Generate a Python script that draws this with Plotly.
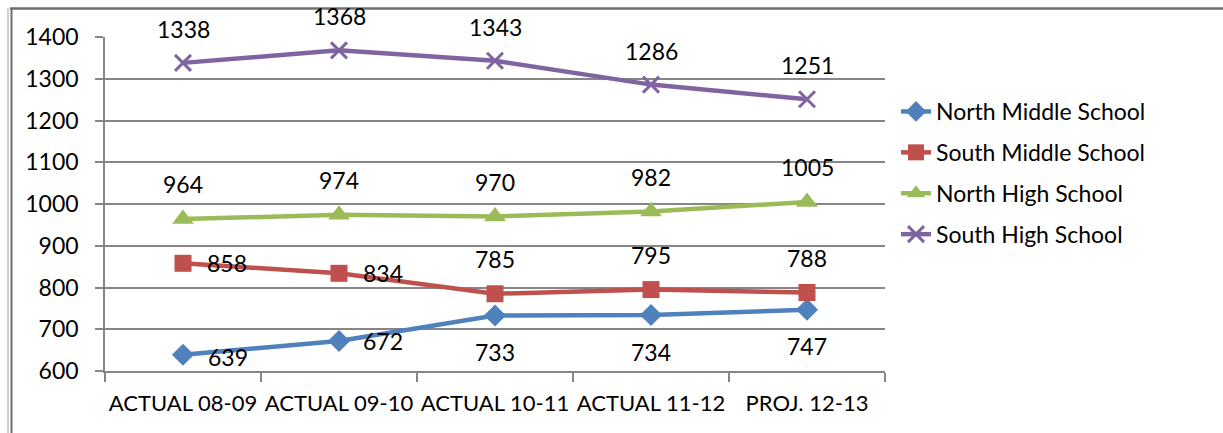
import plotly.graph_objects as go

# School enrollment by year
years = ["ACTUAL 08-09", "ACTUAL 09-10", "ACTUAL 10-11", "ACTUAL 11-12", "PROJ. 12-13"]
north_middle = [639, 672, 733, 734, 747]
south_middle = [858, 834, 785, 795, 788]
north_high = [964, 974, 970, 982, 1005]
south_high = [1338, 1368, 1343, 1286, 1251]

FONT = "Lato"
TXT = 23

W, H = 1223, 433
L, R, T, B = 105, 338, 37, 62
pw, ph = W - L - R, H - T - B


def px_x(x):
    return (x - L) / pw


def px_y(y):
    return (H - B - y) / ph


series = [
    ("North Middle School", north_middle, "#4F81BD",
     dict(symbol="diamond", size=17)),
    ("South Middle School", south_middle, "#C0504D",
     dict(symbol="square", size=17)),
    ("North High School", north_high, "#9BBB59",
     dict(symbol="triangle-up", size=19)),
    ("South High School", south_high, "#8064A2",
     dict(symbol="x-thin", size=16, line=dict(width=3, color="#8064A2"))),
]

# label placement per series: (xshift, yshift) for each point
offsets = {
    "North Middle School": [(45, -2), (44, 0), (0, -37), (0, -37), (0, -36)],
    "South Middle School": [(44, 0), (44, 0), (0, 35), (0, 35), (0, 35)],
    "North High School": [(0, 35)] * 5,
    "South High School": [(0, 34)] * 5,
}

fig = go.Figure()
annotations = []
for i, (name, vals, color, marker) in enumerate(series):
    fig.add_trace(go.Scatter(
        x=years, y=vals, name=name, mode="lines+markers",
        line=dict(color=color, width=4.5),
        marker=dict(color=color, **marker),
        legendgroup=f"g{i}",
    ))
    for x, v, (dx, dy) in zip(years, vals, offsets[name]):
        annotations.append(dict(
            x=x, y=v, text=str(v), showarrow=False,
            xshift=dx, yshift=dy,
            font=dict(family=FONT, size=TXT, color="#000000"),
        ))

# outer frame: top rule and double left rule
shapes = [
    dict(type="line", xref="paper", yref="paper",
         x0=px_x(10), x1=px_x(W + 5), y0=px_y(8.5), y1=px_y(8.5),
         line=dict(color="#6e6e6e", width=2.5)),
    dict(type="line", xref="paper", yref="paper",
         x0=px_x(8), x1=px_x(8), y0=px_y(8), y1=px_y(H + 5),
         line=dict(color="#a0a0a0", width=1)),
    dict(type="line", xref="paper", yref="paper",
         x0=px_x(11.5), x1=px_x(11.5), y0=px_y(8), y1=px_y(H + 5),
         line=dict(color="#6e6e6e", width=2)),
]

fig.update_layout(
    width=W, height=H,
    margin=dict(l=L, r=R, t=T, b=B, autoexpand=False),
    paper_bgcolor="white", plot_bgcolor="white",
    font=dict(family=FONT, size=TXT, color="#000000"),
    showlegend=True,
    legend=dict(
        x=px_x(896), y=px_y(90), xanchor="left", yanchor="top",
        font=dict(family=FONT, size=TXT, color="#000000"),
        tracegroupgap=8, bgcolor="rgba(0,0,0,0)",
    ),
    annotations=annotations,
    shapes=shapes,
)

fig.update_xaxes(
    type="category", range=[-0.5, len(years) - 0.5], tickson="boundaries",
    ticks="outside", ticklen=9, tickcolor="#868686", tickwidth=1.5,
    showline=True, linecolor="#868686", linewidth=1.5,
    showgrid=False, tickfont=dict(family=FONT, size=22),
    tickangle=0, automargin=False,
    ticklabelstandoff=12, fixedrange=True,
)
fig.update_yaxes(
    range=[600, 1400], dtick=100, tick0=600,
    ticks="outside", ticklen=8, tickcolor="#868686", tickwidth=1.5,
    showline=True, linecolor="#868686", linewidth=1.5,
    showgrid=True, gridcolor="#868686", gridwidth=1.5,
    zeroline=False, tickfont=dict(family=FONT, size=TXT),
    automargin=False, ticklabelstandoff=12,
)

fig.write_html("out.html")
